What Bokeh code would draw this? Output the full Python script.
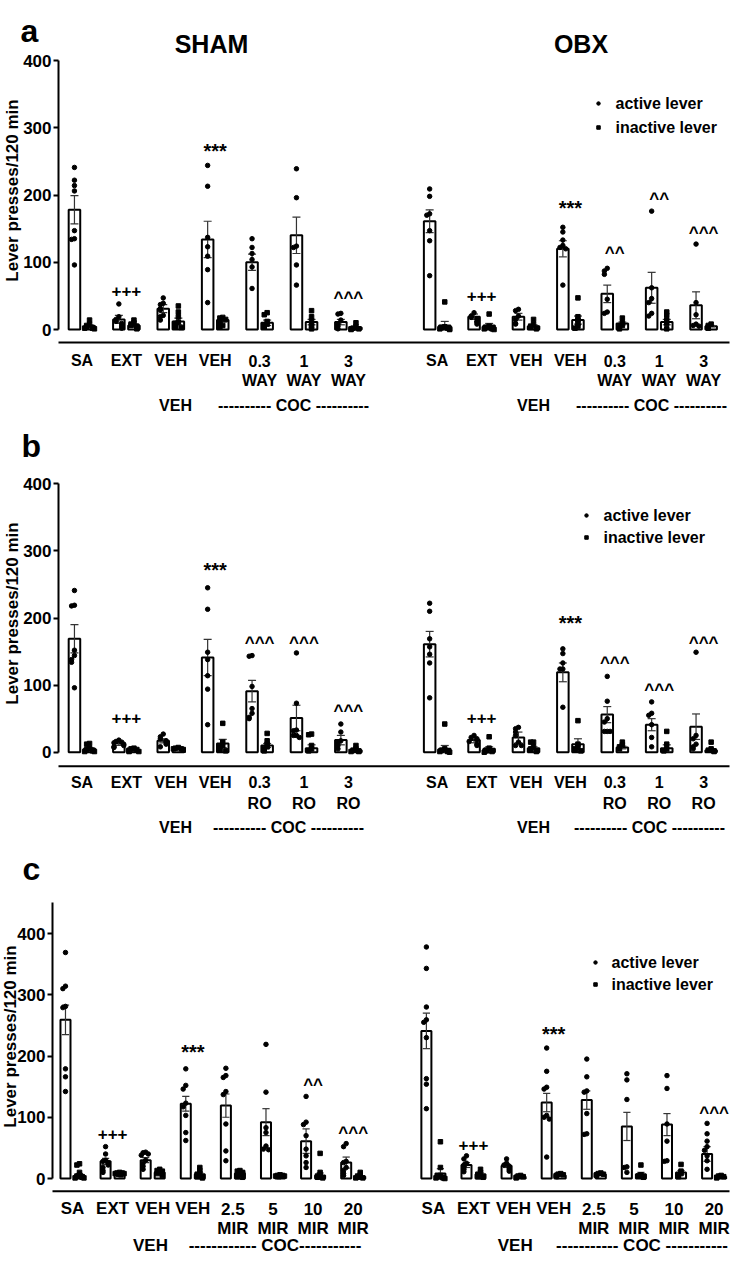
import math
from bokeh.plotting import figure
from bokeh.layouts import column
from bokeh.models import Range1d, FixedTicker
from bokeh.core.properties import value
from bokeh.embed import file_html
from bokeh.resources import INLINE

FONT = "Liberation Sans"

# ===================== DATA =====================
# ---- panel a : WAY ----
a_labels = ["SA", "EXT", "VEH", "VEH", "0.3", "1", "3"]
a_sublabels = ["", "", "", "", "WAY", "WAY", "WAY"]

a_sham_active_mean = [178, 15, 31, 134, 100, 140, 11]
a_sham_active_sem = [21, 6, 6, 27, 12, 27, 4]
a_sham_inactive_mean = [5, 6, 12, 14, 10, 11, 3]
a_sham_inactive_sem = [2, 2, 5, 3, 4, 4, 1]
a_sham_active_pts = [[241, 222, 214, 206, 147, 135, 134, 96], [38, 19, 15, 12, 9, 6, 4, 2],
                     [47, 39, 37, 31, 29, 21, 19, 14], [244, 213, 137, 123, 109, 89, 40],
                     [135, 122, 113, 104, 93, 61], [239, 196, 124, 122, 96, 66], [24, 23, 14, 8, 5, 1]]
a_sham_inactive_pts = [[14, 8, 6, 4, 3, 2, 2, 1], [14, 10, 8, 6, 5, 3, 2, 1], [35, 26, 19, 11, 9, 6, 4, 3],
                       [18, 17, 15, 12, 10, 6, 4], [25, 22, 12, 8, 6, 4], [28, 19, 13, 9, 5, 1], [10, 4, 2, 1, 1, 0]]
a_sham_marks = ["", "+++", "", "***", "", "", "^^^"]
a_sham_mark_y = [0, 58, 0, 272, 0, 0, 53]

a_obx_active_mean = [161, 19, 19, 120, 53, 62, 36]
a_obx_active_sem = [17, 4, 5, 12, 13, 23, 20]
a_obx_inactive_mean = [6, 6, 5, 14, 9, 11, 5]
a_obx_inactive_sem = [6, 3, 2, 6, 2, 4, 1]
a_obx_active_pts = [[209, 198, 172, 170, 147, 132, 80], [25, 20, 18, 16, 12, 11, 8], [30, 28, 20, 15, 9, 8],
                    [152, 145, 133, 125, 122, 120, 66], [91, 87, 82, 45, 26, 24], [176, 62, 46, 40, 24, 20],
                    [127, 40, 22, 8, 6, 5]]
a_obx_inactive_pts = [[41, 4, 3, 2, 1, 1, 0], [23, 5, 3, 2, 1, 1, 0], [15, 8, 5, 3, 2, 1], [47, 19, 14, 9, 5, 2],
                      [17, 10, 6, 4, 1], [26, 21, 14, 9, 1], [8, 6, 4, 2]]
a_obx_marks = ["", "+++", "", "***", "^^", "^^", "^^^"]
a_obx_mark_y = [0, 52, 0, 186, 120, 201, 150]

# ---- panel b : RO ----
b_labels = ["SA", "EXT", "VEH", "VEH", "0.3", "1", "3"]
b_sublabels = ["", "", "", "", "RO", "RO", "RO"]

b_sham_active_mean = [169, 13, 17, 141, 91, 51, 18]
b_sham_active_sem = [21, 3, 3, 27, 16, 19, 7]
b_sham_inactive_mean = [5, 3, 5, 13, 10, 6, 3]
b_sham_inactive_sem = [2, 1, 1, 6, 3, 5, 1]
b_sham_active_pts = [[241, 219, 218, 152, 144, 138, 134, 96], [18, 16, 15, 14, 12, 10, 8, 7],
                     [27, 23, 20, 17, 15, 12, 8], [245, 213, 149, 138, 114, 94, 41],
                     [144, 143, 98, 65, 58, 52, 50], [148, 73, 33, 32, 25, 25, 22], [42, 30, 17, 15, 10, 5]]
b_sham_inactive_pts = [[13, 12, 6, 4, 3, 2, 1, 1], [6, 5, 4, 3, 2, 1, 1], [7, 6, 5, 5, 4, 3],
                       [43, 15, 10, 8, 5, 3, 2], [28, 17, 12, 8, 5, 2], [27, 26, 10, 5, 2], [10, 5, 3, 2, 1, 1]]
b_sham_marks = ["", "+++", "", "***", "^^^", "^^^", "^^^"]
b_sham_mark_y = [0, 53, 0, 277, 169, 169, 68]

b_obx_active_mean = [161, 18, 22, 119, 56, 41, 38]
b_obx_active_sem = [19, 4, 8, 14, 12, 9, 19]
b_obx_inactive_mean = [5, 5, 6, 12, 7, 6, 3]
b_obx_inactive_sem = [5, 3, 2, 8, 2, 5, 2]
b_obx_active_pts = [[222, 210, 169, 157, 146, 133, 81], [25, 22, 20, 18, 16, 12, 10], [37, 35, 30, 25, 15, 10, 10],
                    [154, 147, 133, 124, 124, 67], [113, 76, 50, 45, 31, 31, 31], [75, 58, 55, 41, 22, 8],
                    [149, 25, 20, 12, 8, 5]]
b_obx_inactive_pts = [[42, 5, 3, 2, 1, 1, 0], [23, 6, 3, 2, 1, 0], [15, 15, 8, 5, 3, 2, 1], [47, 12, 8, 5, 3, 2],
                      [15, 11, 8, 5], [31, 12, 5, 2], [15, 5, 3, 2, 1]]
b_obx_marks = ["", "+++", "", "***", "^^^", "^^^", "^^^"]
b_obx_mark_y = [0, 53, 0, 198, 139, 99, 170]

# ---- panel c : MIR ----
c_labels = ["SA", "EXT", "VEH", "VEH", "2.5", "5", "10", "20"]
c_sublabels = ["", "", "", "", "MIR", "MIR", "MIR", "MIR"]

c_sham_active_mean = [259, 28, 30, 122, 119, 92, 61, 26]
c_sham_active_sem = [24, 5, 4, 12, 19, 22, 20, 9]
c_sham_inactive_mean = [5, 8, 10, 7, 8, 5, 5, 3]
c_sham_inactive_sem = [3, 1, 2, 2, 1, 1, 4, 1]
c_sham_active_pts = [[369, 314, 310, 281, 279, 179, 166, 142], [52, 40, 30, 28, 26, 22, 18, 13, 10],
                     [43, 42, 40, 38, 30, 25, 20, 15], [179, 152, 146, 123, 117, 103, 75, 62],
                     [180, 168, 165, 142, 137, 89, 45, 29], [219, 141, 83, 75, 53, 48, 47],
                     [134, 92, 88, 70, 48, 37, 26, 18], [57, 52, 28, 26, 18, 13, 8, 5]]
c_sham_inactive_pts = [[24, 22, 10, 6, 4, 3, 2, 1, 1], [10, 9, 9, 8, 8, 7, 7, 6], [15, 13, 12, 10, 8, 7, 5],
                       [18, 13, 9, 7, 5, 3, 2, 1], [13, 12, 10, 9, 7, 5, 3, 2], [6, 5, 5, 4, 4, 3],
                       [41, 10, 6, 4, 2, 1], [10, 6, 4, 2, 1, 1]]
c_sham_marks = ["", "+++", "", "***", "", "", "^^", "^^^"]
c_sham_mark_y = [0, 75, 0, 213, 0, 0, 160, 81]

c_obx_active_mean = [241, 22, 21, 124, 128, 85, 88, 40]
c_obx_active_sem = [29, 4, 3, 15, 15, 23, 18, 12]
c_obx_inactive_mean = [8, 7, 3, 5, 7, 7, 10, 3]
c_obx_inactive_sem = [8, 2, 1, 1, 1, 3, 3, 1]
c_obx_active_pts = [[378, 343, 280, 259, 255, 230, 163, 154, 114], [37, 32, 25, 22, 18, 15, 11],
                    [32, 25, 22, 20, 18, 15, 12], [213, 175, 149, 146, 103, 100, 97, 35],
                    [195, 166, 143, 141, 106, 73, 72], [171, 161, 129, 19, 18, 10],
                    [168, 147, 89, 61, 29, 28], [90, 73, 61, 52, 46, 37, 29, 15]]
c_obx_inactive_pts = [[60, 18, 5, 3, 2, 1, 1, 0], [15, 10, 7, 5, 3, 2], [5, 4, 3, 2, 1], [8, 7, 6, 5, 4, 3],
                      [9, 8, 7, 6, 5], [22, 6, 4, 3, 2], [23, 12, 8, 5, 3], [5, 4, 3, 2, 1]]
c_obx_marks = ["", "+++", "", "***", "", "", "", "^^^"]
c_obx_mark_y = [0, 56, 0, 243, 0, 0, 0, 115]

y_ticks = [0, 100, 200, 300, 400]
y_title = "Lever presses/120 min"
legend_labels = ["active lever", "inactive lever"]


# ===================== DRAWING =====================
def dot_offsets(pts, tol=6):
    pattern = [0.0, -0.065, 0.065, -0.11, 0.11, -0.03, 0.03, -0.09, 0.09]
    offs = []
    for i, v in enumerate(pts):
        k = sum(1 for w in pts[:i] if abs(w - v) <= tol)
        offs.append(pattern[k % len(pattern)])
    return offs


def build(cfg):
    g = cfg["geom"]
    s = (g["y0"] - g["y400"]) / 400.0

    def yd(py):
        return (g["y0"] - py) / s

    def xd(px):
        return 1 + (px - g["x1"]) / g["dx"]

    p = figure(width=738, height=g["fig_bot"] - g["fig_top"],
               x_range=Range1d(xd(0), xd(738)),
               y_range=Range1d(yd(g["fig_bot"]), yd(g["fig_top"])),
               x_axis_type=None, output_backend="svg", toolbar_location=None,
               min_border_left=0, min_border_right=0,
               min_border_top=0, min_border_bottom=0)
    p.outline_line_color = None
    p.ygrid.grid_line_color = None
    p.background_fill_color = "white"

    ax = p.yaxis[0]
    ax.fixed_location = xd(g["axis_x"])
    ax.ticker = FixedTicker(ticks=y_ticks)
    ax.bounds = (0, g["ymax"])
    ax.axis_line_width = 2
    ax.axis_line_color = "black"
    ax.major_tick_line_width = 2
    ax.major_tick_line_color = "black"
    ax.major_tick_out = 5
    ax.major_tick_in = 0
    ax.minor_tick_line_color = None
    ax.major_label_text_font = FONT
    ax.major_label_text_font_size = "17px"
    ax.major_label_text_font_style = "bold"
    ax.major_label_text_color = "black"
    ax.major_label_standoff = 2

    tf = value(FONT)
    # y axis title (rotated), placed left of the tick labels
    yx, yy = cfg["ylab_pos"]
    p.text(x=[xd(yx)], y=[yd(yy)], text=[y_title], angle=math.pi / 2, text_align="center",
           text_baseline="middle", text_font=tf, text_font_size="17px",
           text_font_style="bold", text_color="black")

    off, bw, cw = g["off"], g["bw"], 0.09
    all_x, all_lab, all_sub = [], [], []
    for grp in cfg["groups"]:
        n = len(grp["am"])
        xc = [grp["x0"] + i for i in range(n)]
        all_x += xc
        all_lab += cfg["labels"]
        all_sub += cfg["sublabels"]
        xa = [x - off for x in xc]
        xi = [x + off for x in xc]
        p.vbar(x=xa, top=grp["am"], bottom=0, width=bw, fill_color="white",
               line_color="black", line_width=2)
        p.vbar(x=xi, top=grp["im"], bottom=0, width=bw, fill_color="white",
               line_color="black", line_width=2)
        for xs_, m, se in ((xa, grp["am"], grp["as"]), (xi, grp["im"], grp["is"])):
            lo = [max(0, a - b) for a, b in zip(m, se)]
            hi = [a + b for a, b in zip(m, se)]
            p.segment(x0=xs_, y0=lo, x1=xs_, y1=hi, line_color="#333333", line_width=1.2)
            p.segment(x0=[x - cw for x in xs_], y0=hi, x1=[x + cw for x in xs_], y1=hi,
                      line_color="#333333", line_width=1.2)
            p.segment(x0=[x - cw for x in xs_], y0=lo, x1=[x + cw for x in xs_], y1=lo,
                      line_color="#333333", line_width=1.2)
        px_, py_ = [], []
        for x, pts in zip(xa, grp["ap"]):
            px_ += [x + o for o in dot_offsets(pts)]
            py_ += pts
        p.scatter(px_, py_, marker="circle", size=4.5, color="black")
        qx_, qy_ = [], []
        for x, pts in zip(xi, grp["ip"]):
            qx_ += [x + o for o in dot_offsets(pts, tol=3)]
            qy_ += pts
        p.scatter(qx_, qy_, marker="square", size=4.5, color="black")
        # significance marks: asterisks drawn larger than + and ^
        for is_star, fs in ((True, "20px"), (False, "17px")):
            mx, my, mt = [], [], []
            for x, t, v in zip(xc, grp["marks"], grp["my"]):
                if not t or t.startswith("*") != is_star:
                    continue
                shift = 1.0 if t.startswith("+") else 4.0
                mx.append(x)
                my.append(v - shift / s)
                mt.append(t)
            if mt:
                p.text(x=mx, y=my, text=mt, text_align="center", text_baseline="middle",
                       text_font=tf, text_font_size=fs, text_font_style="bold", text_color="black")

    r = cfg["rows"]
    p.text(x=all_x, y=[yd(r["r1"])] * len(all_x), text=all_lab, text_align="center",
           text_baseline="middle", text_font=tf, text_font_size=cfg["cat_size"],
           text_font_style="bold", text_color="black")
    p.text(x=all_x, y=[yd(r["r2"])] * len(all_x), text=all_sub, text_align="center",
           text_baseline="middle", text_font=tf, text_font_size=cfg["cat_size"],
           text_font_style="bold", text_color="black")
    p.text(x=[xd(t[1]) for t in cfg["group_texts"]], y=[yd(r["grp"])] * len(cfg["group_texts"]),
           text=[t[0] for t in cfg["group_texts"]], text_align="center", text_baseline="middle",
           text_font=tf, text_font_size=cfg["cat_size"], text_font_style="bold", text_color="black")
    # horizontal axis line
    p.segment(x0=[xd(g["axis_x"])], y0=[yd(r["hl"])], x1=[xd(729)], y1=[yd(r["hl"])],
              line_color="black", line_width=2)

    if cfg.get("titles"):
        p.text(x=[xd(t[1]) for t in cfg["titles"]], y=[yd(t[2]) for t in cfg["titles"]],
               text=[t[0] for t in cfg["titles"]], text_align="center", text_baseline="middle",
               text_font=tf, text_font_size="25px", text_font_style="bold", text_color="black")

    lg = cfg["legend"]
    p.scatter([xd(lg["cx"])], [yd(lg["y1"])], marker="circle", size=3.5, color="black")
    p.scatter([xd(lg["cx"])], [yd(lg["y2"])], marker="square", size=3.5, color="black")
    p.text(x=[xd(lg["tx"])] * 2, y=[yd(lg["y1"]), yd(lg["y2"])], text=legend_labels,
           text_align="left", text_baseline="middle", text_font=tf, text_font_size="16px",
           text_font_style="bold", text_color="black")

    lx, ly = cfg["letter_pos"]
    p.text(x=[xd(lx)], y=[yd(ly)], text=[cfg["letter"]], text_align="left",
           text_baseline="alphabetic", text_font=tf, text_font_size="32px",
           text_font_style="bold", text_color="black")
    return p


def grp(x0, am, as_, im, is_, ap, ip, marks, my):
    return dict(x0=x0, am=am, **{"as": as_}, im=im, **{"is": is_}, ap=ap, ip=ip, marks=marks, my=my)


cfg_a = dict(
    letter="a",
    geom=dict(fig_top=0, fig_bot=418, y0=329, y400=60, axis_x=58,
              x1=81.5, dx=44.4, ymax=400, off=0.17, bw=0.26),
    labels=a_labels, sublabels=a_sublabels, cat_size="16px",
    groups=[grp(1, a_sham_active_mean, a_sham_active_sem, a_sham_inactive_mean, a_sham_inactive_sem,
                a_sham_active_pts, a_sham_inactive_pts, a_sham_marks, a_sham_mark_y),
            grp(9, a_obx_active_mean, a_obx_active_sem, a_obx_inactive_mean, a_obx_inactive_sem,
                a_obx_active_pts, a_obx_inactive_pts, a_obx_marks, a_obx_mark_y)],
    titles=[("SHAM", 211, 43), ("OBX", 580.5, 43)],
    rows=dict(r1=360, r2=380, grp=405, hl=342),
    group_texts=[("VEH", 175), ("---------- COC ----------", 293),
                 ("VEH", 533), ("---------- COC ----------", 651)],
    legend=dict(cx=598, tx=615, y1=103, y2=127),
    letter_pos=(20, 30), ylab_pos=(12, 190))

cfg_b = dict(
    letter="b",
    geom=dict(fig_top=418, fig_bot=838, y0=751.7, y400=483.3, axis_x=58,
              x1=81.5, dx=44.4, ymax=400, off=0.17, bw=0.26),
    labels=b_labels, sublabels=b_sublabels, cat_size="16px",
    groups=[grp(1, b_sham_active_mean, b_sham_active_sem, b_sham_inactive_mean, b_sham_inactive_sem,
                b_sham_active_pts, b_sham_inactive_pts, b_sham_marks, b_sham_mark_y),
            grp(9, b_obx_active_mean, b_obx_active_sem, b_obx_inactive_mean, b_obx_inactive_sem,
                b_obx_active_pts, b_obx_inactive_pts, b_obx_marks, b_obx_mark_y)],
    titles=None,
    rows=dict(r1=781.7, r2=802.7, grp=827, hl=765.7),
    group_texts=[("VEH", 175), ("---------- COC ----------", 288),
                 ("VEH", 533), ("---------- COC ----------", 649)],
    legend=dict(cx=586, tx=603, y1=515, y2=537),
    letter_pos=(21, 445), ylab_pos=(12, 613))

cfg_c = dict(
    letter="c",
    geom=dict(fig_top=838, fig_bot=1270, y0=1178, y400=933, axis_x=52,
              x1=72, dx=40.1, ymax=450, off=0.175, bw=0.25),
    labels=c_labels, sublabels=c_sublabels, cat_size="17px",
    groups=[grp(1, c_sham_active_mean, c_sham_active_sem, c_sham_inactive_mean, c_sham_inactive_sem,
                c_sham_active_pts, c_sham_inactive_pts, c_sham_marks, c_sham_mark_y),
            grp(10, c_obx_active_mean, c_obx_active_sem, c_obx_inactive_mean, c_obx_inactive_sem,
                c_obx_active_pts, c_obx_inactive_pts, c_obx_marks, c_obx_mark_y)],
    titles=None,
    rows=dict(r1=1208, r2=1228, grp=1245, hl=1190.7),
    group_texts=[("VEH", 150), ("------------ COC-----------", 274.5),
                 ("VEH", 514.7), ("----------- COC -----------", 641.5)],
    legend=dict(cx=595, tx=611, y1=962, y2=984),
    letter_pos=(22, 868), ylab_pos=(10, 1036))

pa = build(cfg_a)
pb = build(cfg_b)
pc = build(cfg_c)
layout = column(pa, pb, pc, spacing=0)
open("out.html", "w").write(file_html(layout, INLINE))
